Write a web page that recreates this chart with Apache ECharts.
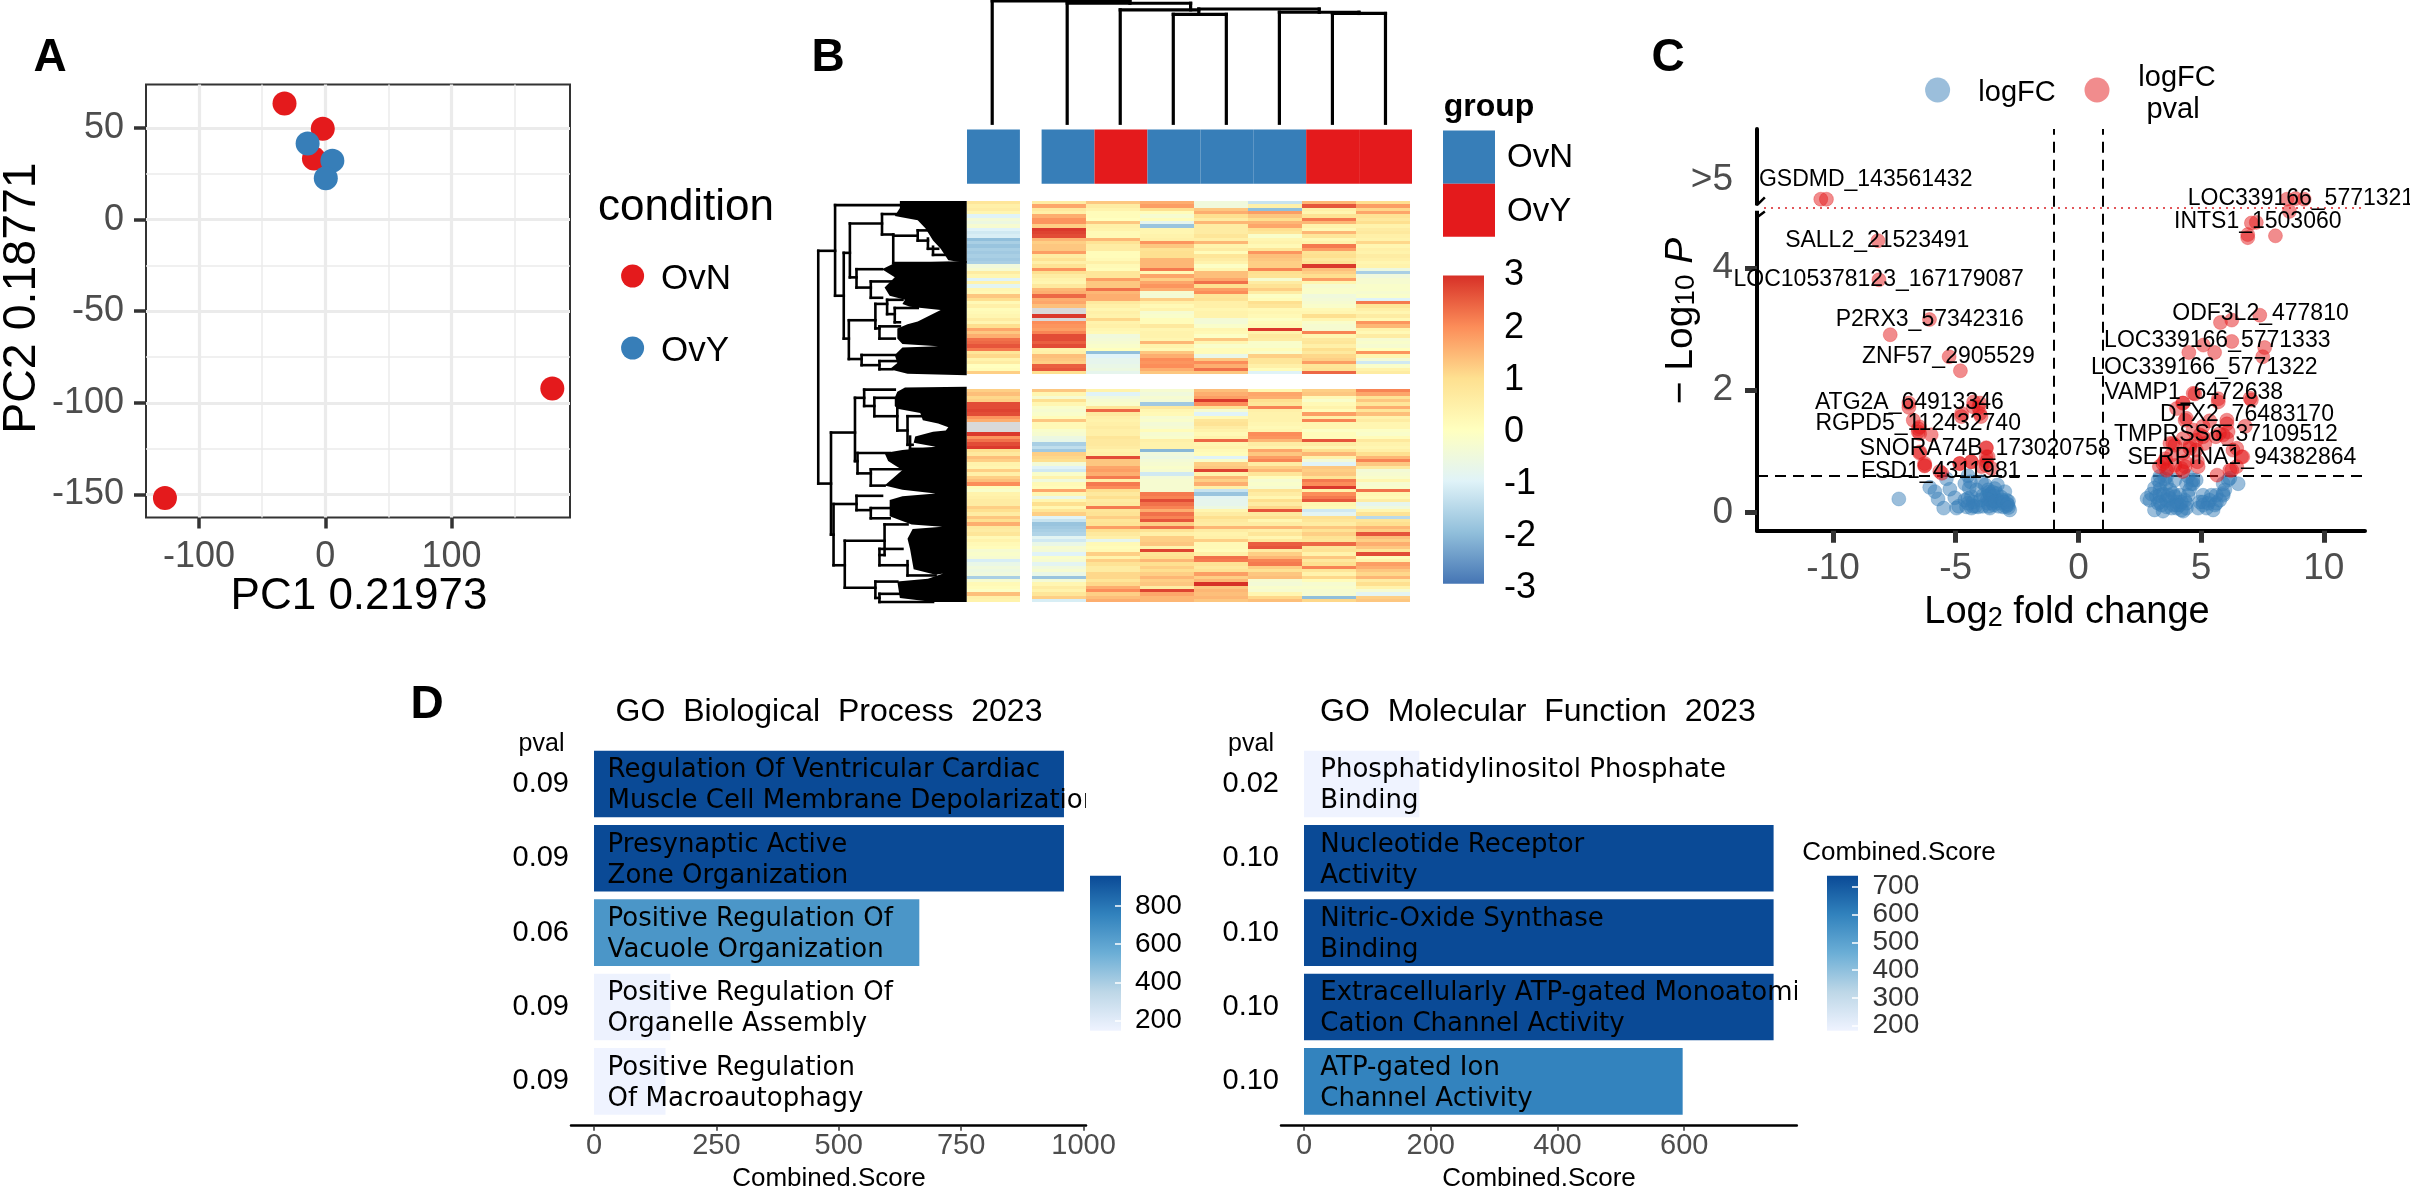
<!DOCTYPE html>
<html><head><meta charset="utf-8">
<style>html,body{margin:0;padding:0;background:#fff}#c{width:2410px;height:1189px}</style>
<script src="https://cdn.jsdelivr.net/npm/echarts@6/dist/echarts.min.js"></script>
</head><body><div id="c"></div>
<script>
// ---------- Panel A
const pcaOvN=[[-32.3,63.5],[-2,49.7],[-9,33.4],[179.8,-92.2],[-127,-152]];
const pcaOvY=[[-14,41.7],[5.6,32.3],[0.4,22.7]];
const pcaXTicks=[-100,0,100], pcaYTicks=[-150,-100,-50,0,50];
const pcaXMinor=[-50,50,150], pcaYMinor=[-125,-75,-25,25];
// ---------- Panel B : heat map (rows top cluster 52, bottom cluster 64; null = NA)
const heatTop=[
[.8,.5,.6,.3,-1,-.4,-.6,-.3,-1,-1.2,-1.1,-2,-1.7,-1.9,-1.7,-1.8,-1.7,-1.8,-1.7,-.5,-.3,.6,.3,-1,.4,-.9,.3,.2,1.3,1,.2,.5,.1,.2,.3,.6,.3,1,1.7,1.3,1.6,2.3,2.4,2.6,2.2,.8,1.1,.4,.6,0,.1,1.2],
[.6,1.7,.7,.5,1.6,1.9,1.9,1.2,2.9,2.8,2.7,1.5,1.2,1.3,1.3,1.8,.6,.9,.5,.9,1.9,1,.6,.4,.3,.7,1.5,1.6,2.4,1.6,1.7,1.4,null,null,2.9,null,2,1.9,1.8,2.1,2.7,2.7,2.5,2.7,.4,.5,1.4,1.3,1.2,2.5,2.6,1],
[1.3,.6,.4,.1,.1,0,1.3,.5,.4,.2,.2,1.5,.9,.6,.6,.1,.1,.2,.5,.2,.1,.8,.8,1.8,1.3,1.3,2.3,1.5,1.6,1.6,.7,.5,.3,.5,.4,1.1,.4,.5,.3,.2,-.5,-.4,-.3,-.2,0,-2,-1,-.8,-.8,-.7,-.6,-.8],
[1.6,1.8,1,.1,-.3,.1,-.8,-1.9,.3,.3,.4,.5,1.9,1.3,.9,1,1,1.5,1.5,1.5,2.2,.2,1.7,1.2,1.7,1.9,1.6,-.3,-.4,1.2,.5,.2,.4,-.3,-.2,.1,.1,.7,.3,.4,.4,.3,1.5,.4,.2,1.3,1.6,2,1.9,2,1.6,1.3],
[-.5,-.5,1.3,1.6,1,.6,1.5,.6,.6,.6,.8,.5,1.5,.4,.6,.1,.8,.6,.4,-.1,.3,1.4,1.4,1.7,2.3,1,1.8,2,.8,.9,.5,.5,.3,.4,.4,-.4,-.4,-.2,.3,.2,-.1,1.3,.3,-.2,.1,.1,-.7,1.3,2,1.6,2.3,1.3],
[-1.3,.5,-2,1.8,1.3,1,1.5,1.7,1,.8,-.2,.3,.4,.2,.8,1.9,1.4,1.3,1.2,1.2,2.1,1,.9,-.3,.6,.9,1.2,.6,-.1,.1,1,.8,.2,.3,.2,-.1,.1,.2,2.9,.4,.7,.6,-.2,-.2,.1,-.2,1.2,.8,.8,.5,.1,-1],
[1.5,2.6,.5,.3,.9,2.2,1.5,.4,.2,1.5,.8,.2,.4,2.2,1.8,.9,1,.7,.9,2.9,1.4,1.2,1,1.8,.3,-.3,-.2,-.2,-.5,-.4,-.3,-.2,.2,.3,1,.3,-.2,-.3,-.3,2.1,.3,.7,.8,.5,1,.7,1.1,1.2,1.8,.8,.9,2.4],
[1,1.8,1.1,1.7,.9,.7,1,.4,.6,.7,.5,.4,1.1,.3,.5,.4,.6,.5,.3,.4,-.6,-1.7,-.5,-.3,-.3,-.2,-.2,-.3,-.2,-1,2.2,.8,.5,.3,.6,.2,1.9,1.5,.4,.2,.6,-.3,-.2,-.3,0,1.9,.3,-.4,-1.2,-.2,.4,.6]
];
const heatBottom=[
[1.2,1.4,1.1,1.2,2.7,2.7,2.8,2.7,1.9,1.6,null,null,null,2.9,1.9,2.3,2.7,2.9,1,.7,1.4,1.2,.4,.3,1.2,.5,1.2,1.4,2,.1,-.2,.4,.5,.6,.6,1.2,1,.6,1.3,1,1.6,.7,.6,.8,.2,.4,.2,.1,-.3,-.2,-.3,-1.1,-.7,-.5,-.6,-.5,-1.7,-.3,.2,.1,-.1,1.4,.5,.4],
[1.3,.3,-.3,1,.3,-.2,-.3,-.2,.1,1.3,.2,.2,-.2,-.3,-.6,-.7,-1.7,-1.4,-1.8,1.2,1.1,1,-.4,-1,-1.2,-.2,.4,-.5,.2,.1,1.7,.3,-.7,.3,1,.3,.8,1.2,-1,-1.3,-1.9,-1.8,-1.7,-1.6,-.9,-1.2,-.7,-.3,-.4,-1,-.2,-.3,-.9,-.5,-.3,-.7,-1.9,-.4,.3,.6,.4,.8,1.2,-1.1],
[.4,-1,-.5,-.3,-.2,.8,2.4,.7,.5,.4,.5,.6,.5,.5,.8,.7,.7,.6,.4,.5,2.7,1.3,1.3,1.7,1.8,1.6,2.2,.5,2.2,2,1,.7,1,.6,.7,2.2,.8,.9,1.2,.8,.9,1.8,1,.7,.5,-.8,.2,.1,.2,1.2,.4,1.2,.9,.6,.6,1.1,1.1,.8,1.1,1.6,2,1.2,1.4,1.6],
[-.3,-.5,-.3,-.4,-1.8,.7,.3,.2,-.3,-.2,-.4,-.3,.1,-.3,-.2,.5,.4,.4,-2.1,-.5,-.6,-.4,-.3,-.2,-.3,-1.2,-.4,-.3,-.3,-.3,-.3,2.2,2.1,2.7,2.3,2.1,1.6,2.3,2.1,2.6,1.2,2.3,.9,.5,1.2,1.2,1.3,.4,2.8,.9,1,1.5,1,1.2,1,1.2,1.5,1.2,1.3,.6,2.8,1.7,1.5,1.5],
[1.4,1.6,1.8,2.9,2,.9,-.3,-1,.2,.8,.9,.6,.4,.2,.4,2.4,.3,.4,.2,.1,-1,-.2,1.2,1.3,2.8,.4,1.5,1.2,1.6,.5,-1.3,-1.9,-.9,-.8,-.8,-.6,.3,.6,1,.7,.6,1.5,.6,.4,.5,1.2,.2,.2,.1,.5,2.3,2.2,.9,.7,.9,1.8,1.2,1.5,3,1.3,1.5,1.4,1.5,1.3],
[.3,1.7,1.6,1,.8,2.1,.5,.4,.4,.4,.3,.2,.3,2,1.9,1.5,.6,.4,1.7,1.3,1.8,2.1,.6,1.2,1.5,.8,.1,-.3,-.2,-.3,.9,.6,.3,1,.6,1.1,2.6,.7,1,.3,.6,1.5,.5,.8,.3,.7,2.5,2.6,.6,1.2,1.5,2.1,2.2,1.2,.9,1.3,1.4,-.3,-.4,-.2,-.3,.3,1.1,1.4],
[1.2,1.3,.2,-.2,.2,.4,.1,1.8,.5,2.1,.3,.3,-.1,.1,.1,2.6,.6,.3,1,1.5,.4,-.4,-1,1.3,1.2,1.3,.9,2.2,2,2.9,.4,2,2.2,2.6,.3,.2,-1.2,-.9,1,.8,.6,1.3,.9,1.2,.9,.8,2.4,.8,.9,.4,1.3,.7,1,2.1,.8,.4,1.1,.1,-.3,-.2,-.3,-.3,-2,1.1],
[2.1,1.7,.9,1.3,.8,1.6,.8,1.4,.4,.6,.3,.3,-.1,-.2,.1,.7,.4,.3,.5,1,1.5,2.1,1.3,.7,-.4,-.3,-.2,.3,-.3,-.2,2.3,.3,.2,.6,-.8,-.5,.3,.9,-1.5,.8,1,1.5,1.2,2.6,1.4,1.2,1.6,1.3,.8,2.7,.1,.4,1.8,1.6,1.3,1.1,1.5,.6,1,.4,-.3,-.9,1.2,1.3]
];
const sampleGroups=['OvN','OvN','OvY','OvN','OvN','OvN','OvY','OvY'];
const heatPalette=['#4575B4','#91BFDB','#E0F3F8','#FFFFBF','#FEE090','#FC8D59','#D73027'];
const colDendro=[[416,2,416,302],[416,2,686,2],[686,2,686,8],[563,8,805,8],[563,8,563,302],[805,8,805,24],[667,24,821,24],[667,24,667,302],[821,22,821,35],[771,35,875,35],[771,35,771,302],[875,35,875,302],[821,22,1057,22],[1057,22,1057,30],[979,30,1135,30],[979,30,979,302],[1135,30,1135,33],[1083,33,1187,33],[1083,33,1083,302],[1187,33,1187,302]];
const rowDendro=[[75,615,75,1185],[75,615,108,615],[75,1185,100,1185],[108,503,108,725],[108,503,235,503],[108,725,125,725],[125,620,125,830],[125,620,137,620],[125,830,135,830],[137,548,137,680],[137,548,200,548],[137,680,150,680],[200,525,200,575],[200,525,240,525],[200,575,222,575],[222,575,222,645],[222,645,330,645],[222,578,270,578],[270,565,270,590],[270,565,310,565],[270,590,290,590],[290,585,290,610],[290,610,310,610],[300,605,300,625],[300,625,325,625],[150,660,150,705],[150,660,200,660],[150,705,178,705],[178,690,178,730],[178,690,225,690],[178,730,200,730],[135,785,135,880],[135,785,187,785],[135,880,160,880],[187,745,187,805],[187,745,210,745],[187,805,195,805],[210,735,210,770],[210,735,240,735],[210,770,225,770],[225,755,225,790],[225,755,270,755],[225,790,235,790],[195,800,195,830],[195,830,225,830],[195,800,235,800],[160,870,160,895],[160,870,225,870],[160,895,195,895],[195,885,195,905],[195,885,230,885],[195,905,220,905],[100,1060,100,1310],[100,1060,147,1060],[100,1310,105,1310],[147,975,147,1130],[147,975,165,975],[147,1130,152,1130],[165,955,165,995],[165,955,225,955],[165,995,185,995],[185,975,185,1020],[185,975,225,975],[185,1020,230,1020],[230,1000,230,1055],[230,1055,250,1055],[250,1020,250,1090],[250,1020,280,1020],[250,1090,260,1090],[255,1070,255,1100],[255,1100,305,1100],[152,1110,152,1160],[152,1110,215,1110],[152,1160,178,1160],[178,1150,178,1190],[178,1190,205,1190],[178,1150,240,1150],[105,1235,105,1385],[105,1235,150,1235],[105,1385,127,1385],[150,1215,150,1250],[150,1215,200,1215],[150,1250,178,1250],[178,1245,178,1270],[178,1245,215,1245],[178,1270,215,1270],[127,1325,127,1440],[127,1325,205,1325],[127,1440,187,1440],[205,1285,205,1360],[205,1285,250,1285],[195,1360,205,1360],[195,1345,195,1385],[195,1345,240,1345],[195,1385,250,1385],[250,1375,250,1410],[250,1410,305,1410],[187,1425,187,1465],[187,1425,230,1425],[187,1465,195,1465],[195,1455,195,1475],[195,1455,235,1455],[195,1475,300,1475]];
const rowDendroMasses=[
[[235,493],[366,493],[366,645],[330,638],[315,610],[300,590],[285,560],[270,540],[225,530],[235,510]],
[[225,645],[366,640],[366,920],[250,916],[215,905],[230,890],[225,870],[240,852],[310,849],[240,843],[230,830],[230,805],[250,795],[270,788],[315,760],[255,752],[240,745],[245,735],[215,725],[205,705],[225,680],[200,660]],
[[245,950],[366,948],[366,1475],[300,1475],[235,1465],[230,1425],[290,1418],[320,1405],[305,1408],[262,1395],[255,1345],[250,1320],[260,1296],[318,1291],[258,1285],[215,1265],[215,1225],[240,1216],[305,1209],[240,1200],[205,1190],[240,1152],[225,1140],[212,1130],[205,1110],[240,1103],[305,1095],[262,1085],[265,1070],[300,1058],[325,1055],[330,1047],[310,1038],[280,1030],[275,1012],[230,1002],[225,995],[225,975],[230,960]]
];
// ---------- Panel C
const volcanoRed=[[-10.5,5.13],[-10.27,5.13],[8.5,5.13],[8.85,5.14],[9.2,5.13],[8.6,4.93],[7.05,4.74],[7.25,4.75],[6.9,4.55],[6.9,4.5],[8.03,4.53],[-8.17,4.45],[-8.13,3.81],[-6.07,3.16],[-7.67,2.91],[7.39,3.23],[6.25,3.15],[5.79,3.11],[6.25,2.8],[5.09,2.74],[7.59,2.7],[4.5,2.62],[5.55,2.62],[7.51,2.55],[-5.27,2.55],[-4.81,2.32],[4.75,1.94],[5.7,1.86],[5.7,1.81],[4.25,1.79],[7.05,1.84],[-6.91,1.79],[-6.91,1.72],[-4.27,1.81],[-4.07,1.72],[-4.77,1.57],[-3.97,1.57],[6.05,1.51],[6.05,1.45],[4.35,1.51],[5.35,1.5],[5.75,1.29],[4.95,1.27],[3.85,1.13],[4.55,1.1],[5.15,1.13],[6.45,1.05],[6.65,.91],[6.05,1.21],[5.6,1.24],[4.8,1.02],[-6.47,1.4],[-6.47,1.29],[-6,1.27],[-6.47,.97],[-6.27,.8],[-6.27,.76],[-3.76,1.06],[-3.76,.91],[-4.83,.8],[-4.37,.83],[-3.76,.77],[-5.57,.64],[3.44,.8],[3.64,.72],[4.35,.75],[4.85,.83],[4.25,.67],[5.65,.61],[6.25,.69],[6.45,.75],[3.55,.88],
[4.68,1.95],[4.27,1.79],[7,1.87],[4,1.7],[4.4,1.54],[6.8,1.41],[5.08,1.41],[4.67,1.35],[3.73,1.13],[3.93,1.1],[4.27,1.21],[4.8,1.18],[5.08,1.24],[5.9,1.27],[6.1,1.32],[6.3,1.02],[6.7,.91],[3.5,.83],[3.3,.75],[3.59,.69],[3.93,.77],[4.2,.72],[4.34,.83],[4.88,.75],[6.17,.69],[4.27,.97],[3.79,.94],[4.54,1.05],
[-6.73,1.51],[-6.53,1.37],[-6.53,1.32],[-6.26,.77],[-6.46,.99],[-4.02,1.79],[-4.29,1.73],[-4.76,1.62],[-4.02,1.62],[-3.75,1.05],[-3.68,.91],[-4.84,.8],[-4.36,.83],[-3.95,.75],[-5.65,.67],[-3.75,.83],[-3.54,.72]];
const volcanoBlue=[[-7.32,.22],[-6.06,.41],[-5.85,.34],[-5.72,.22],[-5.49,.07],[-5.38,.55],[-5.24,.38],[-5.04,.24],[-4.97,.07],[-4.88,.1],[-4.63,.47],[-4.5,.6],[-4.5,.23],[-4.36,.26],[-4.36,.07],[-4.29,.17],[-4.15,.37],[-3.95,.5],[-3.88,.28],[-3.68,.37],[-3.61,.07],[-3.54,.2],[-3.41,.39],[-3.34,.31],[-3.21,.15],[-3.07,.09],[-3,.34],[-2.87,.12],[-2.8,.04],[-2.93,.2],[-3.61,.28],[-3.75,.26],[-4.09,.09],[-3.48,.23],[-4.63,.2],[-4.56,.09],[-3.6,.2],[-3.55,.25],[-3.5,.15],[-3.7,.15],[-3.45,.12],[-3.3,.2],[-3.25,.1],[-3.15,.25],[-2.95,.1],[-2.85,.18],[-3.9,.1],[-4,.2],[-4.2,.1],[-3.65,.33],[-3.8,.45],[-4.45,.4],[-4.4,.5],[-3.3,.45],[-3.6,.3],[-3.5,.33],[-3.45,.27],[-3.7,.22],[-3.65,.1],[-3.4,.18],[-3.1,.2],[-3.05,.17],[-2.9,.14],[-2.85,.08],[-4.3,.1],[-4.5,.15],
[2.8,.23],[2.98,.3],[3.1,.04],[3.25,.53],[3.32,.37],[3.45,.02],[3.32,.17],[3.59,.47],[3.73,.23],[3.59,.09],[3.93,.53],[3.93,.26],[4,.07],[4.13,.28],[4.27,.02],[4.34,.2],[4.47,.28],[4.47,.59],[4.6,.47],[4.8,.53],[4.88,.07],[5.08,.28],[5.08,.12],[5.29,.15],[5.42,.28],[5.49,.04],[5.62,.15],[5.9,.28],[5.97,.37],[6.1,.53],[6.51,.47],[5.9,.47],[3.32,.59],[3.59,.59],[3.1,.4],[3.86,.12],[4.13,.12],[4.4,.15],[3.73,.37],[3.45,.3],[3.25,.15],[4.2,.04],[4,.17],[4.67,.53],[4.53,.37],[5.62,.28],[5.35,.2],[4.95,.17],[6.17,.56],[2.91,.2],[3.18,.26],[3.39,.12],[3.59,.2],[3.79,.07],[4,.12],[4.2,.17],[4.4,.07],[3.86,.31],[3.32,.47],[3.52,.55],[4.4,.47],[4.67,.47],[5.08,.17],[5.22,.07],[5.56,.12],[5.76,.2],[5.9,.31],[3.32,.28],[3.66,.28]];
const geneLabels=[['GSDMD_143561432',-8.67,5.45],['LOC339166_5771321',9.07,5.14],['INTS1_1503060',7.31,4.76],['SALL2_21523491',-8.2,4.45],['LOC105378123_167179087',-8.14,3.81],['P2RX3_57342316',-6.06,3.15],['ODF3L2_477810',7.42,3.25],['LOC339166_5771333',5.66,2.82],['ZNF57_2905529',-5.3,2.55],['LOC339166_5771322',5.13,2.37],['VAMP1_6472638',4.7,1.96],['ATG2A_64913346',-6.89,1.79],['DTX2_76483170',6.87,1.6],['RGPD5_112432740',-6.53,1.46],['TMPRSS6_37109512',6.01,1.28],['SNORA74B_173020758',-3.8,1.05],['SERPINA1_94382864',6.66,.9],['FSD1_4311981',-5.61,.66]];
const volcanoXTicks=[-10,-5,0,5,10], volcanoYTicks=[0,2,4], volcanoBreakLabel=5.45;
const fcCut=[-1,1], pCut=0.6, breakLine=4.99;
// ---------- Panel D
const bpLabels=['Regulation Of Ventricular Cardiac\nMuscle Cell Membrane Depolarization','Presynaptic Active\nZone Organization','Positive Regulation Of\nVacuole Organization','Positive Regulation Of\nOrganelle Assembly','Positive Regulation\nOf Macroautophagy'];
const bpScores=[960,960,664.5,156,146];
const bpPvals=['0.09','0.09','0.06','0.09','0.09'];
const mfLabels=['Phosphatidylinositol Phosphate\nBinding','Nucleotide Receptor\nActivity','Nitric-Oxide Synthase\nBinding','Extracellularly ATP-gated Monoatomic\nCation Channel Activity','ATP-gated Ion\nChannel Activity'];
const mfScores=[182,741,741,741,597.5];
const mfPvals=['0.02','0.10','0.10','0.10','0.10'];
const bluesRamp=['#EFF3FF','#BDD7E7','#6BAED6','#3182BD','#0A4A96'];
const mfBarTicks=[200,300,400,500,600,700];

const F='"Liberation Sans",Arial,sans-serif', D='"DejaVu Sans",sans-serif';
const RED='#E41A1C', BLUE='#377EB8', GREY='#4d4d4d';
const chart=echarts.init(document.getElementById('c'),null,{renderer:'canvas'});
const grid=[],xAxis=[],yAxis=[],series=[];
function addGrid(x0,y0,x1,y1,xa,ya){
  const i=grid.length;
  grid.push({left:x0,top:y0,width:x1-x0,height:y1-y0,containLabel:false,...(xa.gridExtra||{})});
  const hidden={show:false,type:'value',axisLine:{show:false},splitLine:{show:false},axisTick:{show:false},axisLabel:{show:false}};
  xAxis.push({...hidden,...xa,gridIndex:i}); delete xAxis[i].gridExtra;
  yAxis.push({...hidden,...ya,gridIndex:i});
  return i;
}
function valAxis(min,max,ticks,o){
  return {show:true,type:'value',min,max,splitLine:{show:false},
    axisLine:{show:true,onZero:false,lineStyle:{color:o.lineColor,width:o.lineWidth}},
    axisTick:{show:true,customValues:ticks,length:o.tickLen,lineStyle:{color:o.tickColor||'#333',width:o.tickWidth}},
    axisLabel:{show:true,customValues:ticks,interval:0,showMinLabel:true,showMaxLabel:true,hideOverlap:false,fontFamily:F,fontSize:o.font,lineHeight:o.lineHeight,color:o.color||GREY,margin:o.margin,padding:o.padding||0,formatter:o.formatter||(v=>String(v))}};
}
// ---- A
const gA=addGrid(146,84.5,570,517.5,
  {...valAxis(-142,193.8,pcaXTicks,{lineColor:'#333',lineWidth:0,tickLen:11,tickWidth:3.5,font:36,margin:22}),gridExtra:{show:true,borderColor:'#333',borderWidth:2}},
  valAxis(-162.7,73.9,pcaYTicks,{lineColor:'#333',lineWidth:0,tickLen:12,tickWidth:3.5,font:36,margin:22,padding:[4,0,0,0]}));
xAxis[gA].axisLine.show=false; yAxis[gA].axisLine.show=false;
const gridLine=(k,v,w)=>({[k]:v,lineStyle:{width:w,color:'#ebebeb',type:'solid'}});
series.push({type:'scatter',xAxisIndex:gA,yAxisIndex:gA,data:[],z:1,silent:true,
  markLine:{z:1,silent:true,symbol:'none',label:{show:false},animation:false,data:[
    ...pcaXMinor.map(v=>gridLine('xAxis',v,1.5)),...pcaYMinor.map(v=>gridLine('yAxis',v,1.5)),
    ...pcaXTicks.map(v=>gridLine('xAxis',v,3.2)),...pcaYTicks.map(v=>gridLine('yAxis',v,3.2))]}});
series.push({name:'OvN',type:'scatter',xAxisIndex:gA,yAxisIndex:gA,data:pcaOvN,symbolSize:24,itemStyle:{color:RED,opacity:1},z:3});
series.push({name:'OvY',type:'scatter',xAxisIndex:gA,yAxisIndex:gA,data:pcaOvY,symbolSize:24,itemStyle:{color:BLUE,opacity:1},z:4});
// ---- B heat
const heatColor=v=>v>3.5?'#d9d9d9':echarts.color.lerp((Math.max(-3,Math.min(3,v))+3)/6,heatPalette);
const COL_START=[0,1.209,2.209,3.209,4.209,5.209,6.209,7.209], COL_W=[.987,1,1,1,1,1,1,1], BOTTOM_START=56.4;
const heatData=[];
heatTop.forEach((col,c)=>col.forEach((v,r)=>heatData.push([COL_START[c],r,v==null?9:v,COL_W[c]])));
heatBottom.forEach((col,c)=>col.forEach((v,r)=>heatData.push([COL_START[c],BOTTOM_START+r,v==null?9:v,COL_W[c]])));
const gH=addGrid(966.7,201,1410,602.3,{min:0,max:8.209},{min:0,max:120.4,inverse:true});
series.push({type:'custom',xAxisIndex:gH,yAxisIndex:gH,data:heatData,clip:false,silent:true,
  encode:{x:0,y:1},
  renderItem(p,api){
    const a=api.coord([api.value(0),api.value(1)]),b=api.coord([api.value(0)+api.value(3),api.value(1)+1]);
    const y0=Math.round(a[1]),y1=Math.round(b[1]);
    return {type:'rect',shape:{x:a[0],y:y0,width:b[0]-a[0],height:y1-y0},style:{fill:heatColor(api.value(2))}};
  }});
// annotation strip
const annotStart=[0,1.41,2.41,3.41,4.41,5.41,6.41,7.41];
const gAn=addGrid(967,129.4,1412,183.7,{min:0,max:8.41},{min:0,max:1});
series.push({type:'custom',xAxisIndex:gAn,yAxisIndex:gAn,clip:false,silent:true,encode:{x:0,y:1},
  data:sampleGroups.map((g,i)=>[annotStart[i],0]),
  renderItem(p,api){
    const a=api.coord([api.value(0),1]),b=api.coord([api.value(0)+1,0]);
    return {type:'rect',shape:{x:a[0],y:a[1],width:b[0]-a[0],height:b[1]-a[1]},style:{fill:sampleGroups[p.dataIndex]==='OvN'?BLUE:RED}};
  }});
// dendrograms
const segRender=(w)=>(p,api)=>{
  const a=api.coord([api.value(0),api.value(1)]),b=api.coord([api.value(2),api.value(3)]);
  return {type:'line',shape:{x1:a[0],y1:a[1],x2:b[0],y2:b[1]},style:{stroke:'#000',lineWidth:w,lineCap:'square',fill:null}};
};
const gCD=addGrid(966.7,0,1412,123.3,{min:366,max:1239},{min:0,max:302,inverse:true});
series.push({type:'custom',xAxisIndex:gCD,yAxisIndex:gCD,data:colDendro,clip:false,silent:true,encode:{x:0,y:1},renderItem:segRender(3.2)});
const gRD=addGrid(815.7,201,966.7,602,{min:70,max:366},{min:493,max:1475,inverse:true});
series.push({type:'custom',xAxisIndex:gRD,yAxisIndex:gRD,data:rowDendro,clip:false,silent:true,encode:{x:0,y:1},renderItem:segRender(2.6)});
series.push({type:'custom',xAxisIndex:gRD,yAxisIndex:gRD,data:rowDendroMasses.map((m,i)=>[m[0][0],m[0][1],i]),clip:false,silent:true,encode:{x:0,y:1},
  renderItem(p,api){
    return {type:'polygon',shape:{points:rowDendroMasses[p.dataIndex].map(q=>api.coord(q))},style:{fill:'#000'}};
  }});
// gradient bars
function gradientBar(x0,y0,x1,y1,min,max,barMin,barMax,stops,ticks,o){
  const g=addGrid(x0,y0,x1,y1,{min:0,max:1},{...valAxis(min,max,ticks,{lineColor:'#000',lineWidth:0,tickLen:o.tickLen,tickWidth:1.5,tickColor:'#fff',font:o.font,lineHeight:o.lineHeight,color:'#000',margin:o.margin,padding:o.padding}),position:'right'});
  yAxis[g].axisLine.show=false;
  yAxis[g].axisTick.inside=true;
  yAxis[g].axisTick.show=o.tickLen>0;
  yAxis[g].z=5;
  if(o.pointLabels){
    yAxis[g].axisLabel.show=false;
    series.push({type:'scatter',xAxisIndex:g,yAxisIndex:g,data:ticks.map(v=>[1,v]),symbolSize:1,silent:true,clip:false,z:6,
      itemStyle:{color:'rgba(0,0,0,0)'},labelLayout:{hideOverlap:false},
      label:{show:true,position:'right',distance:o.margin,offset:[0,2],fontFamily:F,fontSize:o.font,color:'#000',textBorderWidth:0,textBorderColor:'transparent',formatter:p=>String(p.value[1])}});
  }
  series.push({type:'custom',xAxisIndex:g,yAxisIndex:g,data:[[0,barMax,1,barMin]],clip:false,silent:true,encode:{x:0,y:1},z:1,
    renderItem(p,api){
      const a=api.coord([0,barMax]),b=api.coord([1,barMin]);
      const n=stops.length-1;
      return {type:'rect',shape:{x:a[0],y:a[1],width:b[0]-a[0],height:b[1]-a[1]},
        style:{fill:new echarts.graphic.LinearGradient(0,1,0,0,stops.map((c,i)=>({offset:i/n,color:c})))}};
    }});
  return g;
}
gradientBar(1443,275.5,1484,588,-3,3,-2.92,3,heatPalette,[-3,-2,-1,0,1,2,3],{tickLen:0,font:36,margin:20,padding:[5,0,0,0]});
// ---- C
const gC=addGrid(1757,129,2365,530.7,
  valAxis(-13.1,11.68,volcanoXTicks,{lineColor:'#000',lineWidth:4,tickLen:12,tickWidth:5,font:37,margin:20}),
  valAxis(-.3,6.28,volcanoYTicks,{lineColor:'#000',lineWidth:4,tickLen:12,tickWidth:5,font:37,margin:24}));
yAxis[gC].axisLabel.customValues=[...volcanoYTicks,volcanoBreakLabel];
yAxis[gC].axisLabel.formatter=v=>v===volcanoBreakLabel?'>5':String(v);
const mlStyle=(c,t,w)=>({color:c,type:t,width:w});
series.push({type:'scatter',xAxisIndex:gC,yAxisIndex:gC,data:[],z:1,silent:true,
  markLine:{z:1,silent:true,symbol:'none',label:{show:false},animation:false,data:[
    ...fcCut.map(v=>({xAxis:v,lineStyle:mlStyle('#000',[11,7],2)})),
    {yAxis:pCut,lineStyle:mlStyle('#000',[11,7],2)},
    {yAxis:breakLine,lineStyle:mlStyle('#e2565a',[2,5],2)}]}});
const alphaPts=(d,c,name)=>({name,type:'scatter',xAxisIndex:gC,yAxisIndex:gC,data:d,symbolSize:14,clip:false,z:3,silent:true,itemStyle:{color:c,opacity:.5,borderColor:c,borderWidth:.6}});
series.push(alphaPts(volcanoBlue,BLUE,'logFC'),alphaPts(volcanoRed,RED,'logFC pval'));
series.push({type:'scatter',xAxisIndex:gC,yAxisIndex:gC,data:geneLabels.map(g=>[g[1],g[2]]),symbolSize:1,clip:false,z:6,silent:true,
  itemStyle:{color:'rgba(0,0,0,0)'},
  label:{show:true,position:'inside',fontFamily:F,fontSize:23,color:'#000',opacity:1,textBorderWidth:0,textBorderColor:'transparent',formatter:p=>geneLabels[p.dataIndex][0]},labelLayout:{hideOverlap:false}});
const breakMask=[[-13.1,4.94],[-13.1,5.04]];
const brk1=[[-13.72,4.97],[-13.38,5.07],[-13.08,5.04],[-12.78,5.16]],brk2=[[-13.72,4.75],[-13.38,4.87],[-13.08,4.84],[-12.78,4.93]];
const lineS=(d,c,w)=>({type:'line',xAxisIndex:gC,yAxisIndex:gC,data:d,symbol:'none',clip:false,silent:true,z:5,lineStyle:{color:c,width:w},smooth:false});
series.push(lineS(breakMask,'#fff',9),lineS(brk1,'#000',2.5),lineS(brk2,'#000',2.5));
// ---- D
function barPanel(x0,x1,min,max,ticks,scores,pvals,labels,labelX,cmin,cmax){
  const g=addGrid(x0,746.8,x1,1118.5,
    {...valAxis(min,max,ticks,{lineColor:'#000',lineWidth:2.5,tickLen:5,tickWidth:1.5,font:29,margin:6}),offset:7.2},
    {show:true,type:'category',inverse:true,data:pvals,axisLine:{show:false},axisTick:{show:false},splitLine:{show:false},
     axisLabel:{show:true,interval:0,fontFamily:F,fontSize:29,color:'#000',margin:2}});
  series.push({type:'bar',xAxisIndex:g,yAxisIndex:g,data:scores,barWidth:66.6,silent:true,z:2,
    itemStyle:{color:p=>echarts.color.lerp((p.value-cmin)/(cmax-cmin),bluesRamp)}});
  series.push({type:'custom',xAxisIndex:g,yAxisIndex:g,data:labels.map((l,i)=>[labelX,i]),clip:true,silent:true,z:3,encode:{x:0,y:1},
    renderItem(p,api){
      const c=api.coord([api.value(0),api.value(1)]);
      return {type:'text',x:c[0],y:c[1]+2,style:{text:labels[p.dataIndex],fontFamily:D,fontSize:26,lineHeight:31,fill:'#000',align:'left',verticalAlign:'middle'}};
    }});
}
barPanel(571,1086,-47,1005,[0,250,500,750,1000],bpScores,bpPvals,bpLabels,27.8,146,960);
barPanel(1281,1796.8,-36.3,777.6,[0,200,400,600],mfScores,mfPvals,mfLabels,25.7,182,741);
gradientBar(1090,875.7,1121,1030.7,148,958,148,958,bluesRamp,[200,400,600,800],{tickLen:6,font:28,lineHeight:20,margin:14,padding:[3,0,0,0]});
gradientBar(1827,875.7,1858,1030.7,182,739.6,182,739.6,bluesRamp,mfBarTicks,{tickLen:6,font:28,margin:14,pointLabels:true});
// ---- Text, legends
const T=(x,y,text,size,o={})=>({type:'text',x:x+(o.rot?3:0),y:y+(o.rot?0:3),rotation:o.rot||0,z:20,silent:true,style:{text,fontFamily:F,fontSize:size,fill:o.fill||'#000',fontWeight:o.bold?'bold':'normal',align:o.align||'center',verticalAlign:'middle',rich:o.rich}});
const Dot=(x,y,r,c,a=1)=>({type:'circle',x,y,z:20,silent:true,shape:{r},style:{fill:c,opacity:a}});
const Box=(x,y,w,h,c)=>({type:'rect',x,y,z:20,silent:true,shape:{width:w,height:h},style:{fill:c}});
const graphic=[
 T(50,55,'A',46,{bold:true}),T(828,55,'B',46,{bold:true}),T(1668,55,'C',46,{bold:true}),T(427,702,'D',46,{bold:true}),
 T(359,594,'PC1 0.21973',44),T(19,298,'PC2 0.18771',46.5,{rot:Math.PI/2}),
 T(686,205,'condition',44),Dot(632.6,276,11.5,RED),T(661,276,'OvN',35,{align:'left'}),Dot(632.6,348,11.5,BLUE),T(661,348,'OvY',35,{align:'left'}),
 T(1489,104,'group',32,{bold:true}),Box(1443,130.6,52,53.1,BLUE),Box(1443,183.7,52,53,RED),T(1507,155,'OvN',33,{align:'left'}),T(1507,209,'OvY',33,{align:'left'}),
 Dot(1937.6,90,12.5,BLUE,.5),T(2017,90,'logFC',29),Dot(2097,90,12.5,RED,.5),T(2177,75,'logFC',29),T(2173,107,'pval',29),
 T(2067,610,'{a|Log}{s|2}{a| fold change}',38,{rich:{a:{fontFamily:F,fontSize:38,verticalAlign:'middle'},s:{fontFamily:F,fontSize:27,verticalAlign:'bottom'}}}),
 T(1678,321,'{a|\u2212 Log}{s|10}{a| }{i|P}',39,{rot:Math.PI/2,rich:{a:{fontFamily:F,fontSize:39,verticalAlign:'middle'},s:{fontFamily:F,fontSize:28,verticalAlign:'bottom'},i:{fontFamily:F,fontSize:39,fontStyle:'italic',verticalAlign:'middle'}}}),
 T(829,709,'GO  Biological  Process  2023',32),T(1538,709,'GO  Molecular  Function  2023',32),
 T(541.5,741,'pval',25),T(1251,741,'pval',25),
 T(829,1176,'Combined.Score',26),T(1539,1176,'Combined.Score',26),T(1899,850,'Combined.Score',26)
];
chart.setOption({animation:false,backgroundColor:'#fff',grid,xAxis,yAxis,series,graphic,tooltip:{show:false},legend:{show:false}});
</script></body></html>
